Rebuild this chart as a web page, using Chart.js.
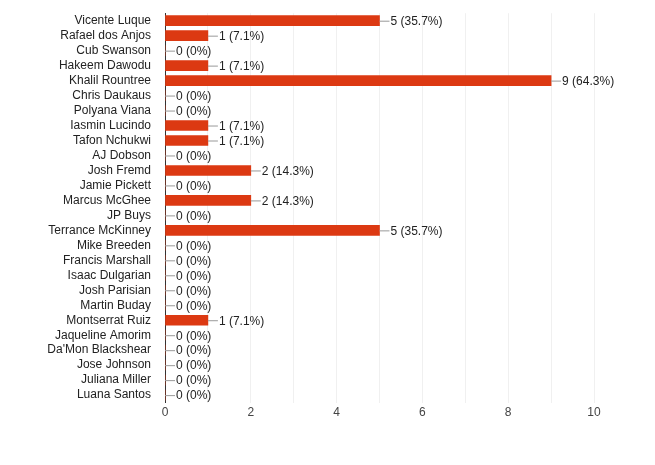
<!DOCTYPE html>
<html><head><meta charset="utf-8">
<script src="https://cdn.jsdelivr.net/npm/chart.js@4"></script>
<style>html,body{margin:0;padding:0;background:#fff}#w{width:655px;height:465px}</style>
</head><body><div id="w"><canvas id="c"></canvas></div>
<script>
const categories=["Vicente Luque","Rafael dos Anjos","Cub Swanson","Hakeem Dawodu","Khalil Rountree","Chris Daukaus","Polyana Viana","Iasmin Lucindo","Tafon Nchukwi","AJ Dobson","Josh Fremd","Jamie Pickett","Marcus McGhee","JP Buys","Terrance McKinney","Mike Breeden","Francis Marshall","Isaac Dulgarian","Josh Parisian","Martin Buday","Montserrat Ruiz","Jaqueline Amorim","Da'Mon Blackshear","Jose Johnson","Juliana Miller","Luana Santos"];
const votes=[5,1,0,1,9,0,0,1,1,0,2,0,2,0,5,0,0,0,0,0,1,0,0,0,0,0];
const pctLabels=["35.7%","7.1%","0%","7.1%","64.3%","0%","0%","7.1%","7.1%","0%","14.3%","0%","14.3%","0%","35.7%","0%","0%","0%","0%","0%","7.1%","0%","0%","0%","0%","0%"];
const font="'Liberation Sans', Arial, sans-serif";
const labelPlugin={id:'lbl',afterDatasetsDraw(ch){const ctx=ch.ctx;const meta=ch.getDatasetMeta(0);ctx.save();ctx.font="12px "+font;ctx.textBaseline='middle';
meta.data.forEach((b,i)=>{const x=b.x,y=b.y;ctx.strokeStyle='#999';ctx.lineWidth=1;ctx.beginPath();ctx.moveTo(x,y+0.5);ctx.lineTo(x+10,y+0.5);ctx.stroke();ctx.fillStyle='#222';ctx.fillText(votes[i]+" ("+pctLabels[i]+")",x+11,y+1);});ctx.restore();}};
new Chart(document.getElementById('c'),{type:'bar',data:{labels:categories,datasets:[{data:votes,backgroundColor:'#dc3912',barThickness:10,borderWidth:0}]},
options:{indexAxis:'y',animation:false,responsive:true,maintainAspectRatio:false,devicePixelRatio:1,
layout:{padding:{top:-13,right:61,bottom:42,left:0}},
plugins:{legend:{display:false},tooltip:{enabled:false}},
scales:{x:{min:0,max:10,ticks:{stepSize:1,autoSkip:false,maxRotation:0,color:'#444',font:{family:font,size:12},callback:v=>v%2===0?v:''},grid:{color:'#f0f0f0',drawTicks:false},border:{display:false}},
y:{ticks:{autoSkip:false,color:'#222',font:{family:font,size:12},padding:6},grid:{display:false},border:{color:'#333'},afterFit(s){s.width=165;}}}},
plugins:[labelPlugin]});
</script></body></html>
